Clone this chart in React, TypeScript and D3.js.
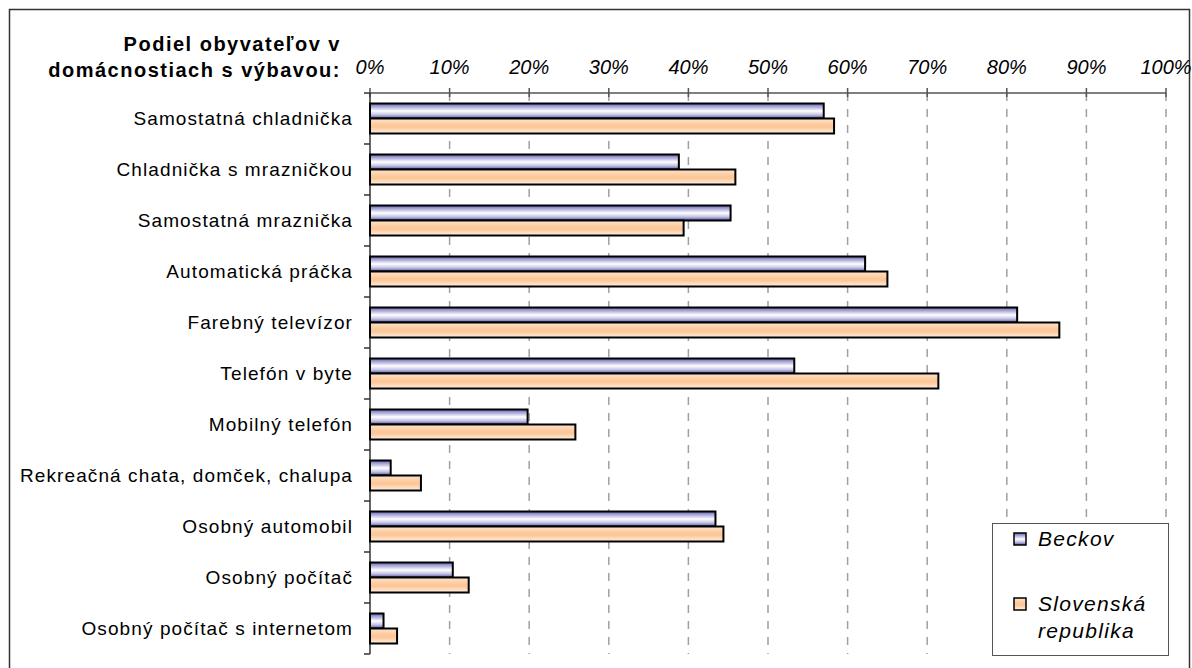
import React from "react";
import * as d3 from "d3";

const categories = [
  "Samostatná chladnička",
  "Chladnička s mrazničkou",
  "Samostatná mraznička",
  "Automatická práčka",
  "Farebný televízor",
  "Telefón v byte",
  "Mobilný telefón",
  "Rekreačná chata, domček, chalupa",
  "Osobný automobil",
  "Osobný počítač",
  "Osobný počítač s internetom",
];
const beckov = [57.0, 38.8, 45.3, 62.2, 81.3, 53.3, 19.8, 2.6, 43.4, 10.4, 1.7];
const slovensko = [58.3, 45.9, 39.4, 65.0, 86.6, 71.4, 25.8, 6.4, 44.4, 12.4, 3.4];
const seriesNames = ["Beckov", "Slovenská republika"];
const ticks = [0, 10, 20, 30, 40, 50, 60, 70, 80, 90, 100];
const titleLines = ["Podiel obyvateľov v", "domácnostiach s výbavou:"];

const W = 1192;
const H = 668;
const left = 370;
const right = 1166;
const top = 93;
const bottom = 654;
const FONT = "Arial, 'Liberation Sans', Helvetica, sans-serif";

export default function App() {
  const x = d3.scaleLinear().domain([0, 100]).range([left, right]);
  const step = (bottom - top) / categories.length;
  const y0 = d3
    .scaleBand<string>()
    .domain(categories)
    .range([top, bottom])
    .paddingInner(21 / 51)
    .paddingOuter(10.5 / 51);
  const y1 = d3.scaleBand<string>().domain(seriesNames).range([0, y0.bandwidth()]);
  const data = [beckov, slovensko];
  const fills = ["url(#gBeckov)", "url(#gSR)"];

  return (
    <svg width={W} height={H} style={{ position: "absolute", left: 0, top: 0 }} fontFamily={FONT}>
      <defs>
        <linearGradient id="gBeckov" x1="0" y1="0" x2="0" y2="1">
          <stop offset="0%" stopColor="#6464b0" />
          <stop offset="20%" stopColor="#a4a4d6" />
          <stop offset="50%" stopColor="#ffffff" />
          <stop offset="75%" stopColor="#c4c4e4" />
          <stop offset="100%" stopColor="#5050a4" />
        </linearGradient>
        <linearGradient id="gSR" x1="0" y1="0" x2="0" y2="1">
          <stop offset="0%" stopColor="#fee4cc" />
          <stop offset="45%" stopColor="#fcc899" />
          <stop offset="60%" stopColor="#fcc899" />
          <stop offset="100%" stopColor="#fff0e4" />
        </linearGradient>
      </defs>
      <rect x={0} y={0} width={W} height={H} fill="#ffffff" />
      <rect x={9.5} y={9.5} width={1180} height={700} fill="none" stroke="#333" strokeWidth={1.5} />

      {/* title */}
      {titleLines.map((t, i) => (
        <text key={i} x={341} y={51 + i * 26} textAnchor="end" fontWeight="bold" fontSize={20} letterSpacing={1.5} fill="#000">
          {t}
        </text>
      ))}

      {/* gridlines */}
      {ticks.slice(1).map((t) => (
        <line key={t} x1={x(t)} x2={x(t)} y1={top} y2={bottom} stroke="#a0a0a0" strokeWidth={1.5} strokeDasharray="8,8" />
      ))}

      {/* top axis */}
      <line x1={left} x2={right} y1={top} y2={top} stroke="#555" strokeWidth={1.5} />
      {ticks.map((t) => (
        <g key={t}>
          <line x1={x(t)} x2={x(t)} y1={top - 5} y2={top + 4} stroke="#555" strokeWidth={1.5} />
          <text x={x(t)} y={74} textAnchor="middle" fontStyle="italic" fontSize={20} fill="#000">
            {t}%
          </text>
        </g>
      ))}

      {/* left axis */}
      <line x1={left} x2={left} y1={top} y2={bottom} stroke="#333" strokeWidth={1.5} />
      {d3.range(categories.length + 1).map((i) => (
        <line key={i} x1={left - 6} x2={left} y1={top + i * step} y2={top + i * step} stroke="#333" strokeWidth={1.5} />
      ))}

      {/* category labels */}
      {categories.map((c) => (
        <text key={c} x={353} y={(y0(c) as number) + y0.bandwidth() / 2 + 6.5} textAnchor="end" fontSize={19} letterSpacing={1.1} fill="#000">
          {c}
        </text>
      ))}

      {/* bars */}
      {seriesNames.map((s, si) => (
        <g key={s}>
          {categories.map((c, ci) => (
            <rect
              key={c}
              x={x(0)}
              y={(y0(c) as number) + (y1(s) as number)}
              width={x(data[si][ci]) - x(0)}
              height={y1.bandwidth()}
              fill={fills[si]}
              stroke="#000"
              strokeWidth={2}
            />
          ))}
        </g>
      ))}

      {/* legend */}
      <rect x={992.5} y={523.5} width={176} height={132} fill="#fff" stroke="#555" strokeWidth={1} />
      <rect x={1014} y={533} width={12} height={12} fill="url(#gBeckov)" stroke="#000" strokeWidth={1.5} />
      <text x={1038} y={546} fontStyle="italic" fontSize={21} letterSpacing={1.3} fill="#000">
        Beckov
      </text>
      <rect x={1014} y={598} width={12} height={12} fill="url(#gSR)" stroke="#000" strokeWidth={1.5} />
      <text x={1038} y={611} fontStyle="italic" fontSize={21} letterSpacing={1.3} fill="#000">
        Slovenská
      </text>
      <text x={1038} y={638} fontStyle="italic" fontSize={21} letterSpacing={1.3} fill="#000">
        republika
      </text>
    </svg>
  );
}
